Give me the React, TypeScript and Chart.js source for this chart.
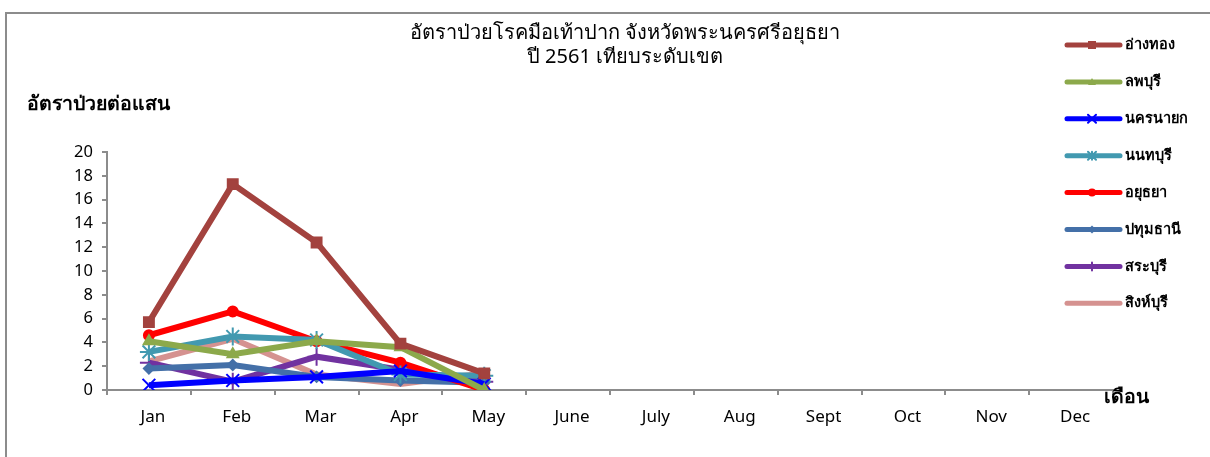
import React, { useEffect, useRef } from "react";
import { Chart, registerables } from "chart.js";

Chart.register(...registerables);

const months = ["Jan", "Feb", "Mar", "Apr", "May", "June", "July", "Aug", "Sept", "Oct", "Nov", "Dec"];
const titleLines = ["อัตราป่วยโรคมือเท้าปาก จังหวัดพระนครศรีอยุธยา", "ปี 2561 เทียบระดับเขต"];
const yAxisTitle = "อัตราป่วยต่อแสน";
const xAxisTitle = "เดือน";

const angthong = [5.7, 17.3, 12.4, 3.9, 1.4];
const lopburi = [4.1, 3.0, 4.1, 3.6, 0];
const nakhonnayok = [0.4, 0.8, 1.1, 1.6, 0.5];
const nonthaburi = [3.2, 4.5, 4.2, 1.3, 1.2];
const ayutthaya = [4.6, 6.6, 4.1, 2.3, 0];
const pathumthani = [1.8, 2.1, 1.1, 0.8, 0.6];
const saraburi = [2.3, 0.7, 2.8, 1.7, 0.7];
const singburi = [2.4, 4.3, 1.3, 0.5, 1.4];

const FONT = "Tahoma, 'Noto Sans', 'DejaVu Sans', sans-serif";

type S = { label: string; data: number[]; color: string; style: any; r: number };
const series: S[] = [
  { label: "อ่างทอง", data: angthong, color: "#A3423E", style: "rect", r: 7 },
  { label: "ลพบุรี", data: lopburi, color: "#8CA94B", style: "triangle", r: 6 },
  { label: "นครนายก", data: nakhonnayok, color: "#0000FF", style: "crossRot", r: 9 },
  { label: "นนทบุรี", data: nonthaburi, color: "#4299B0", style: "star", r: 9 },
  { label: "อยุธยา", data: ayutthaya, color: "#FF0000", style: "circle", r: 5 },
  { label: "ปทุมธานี", data: pathumthani, color: "#4470A8", style: "rectRot", r: 5 },
  { label: "สระบุรี", data: saraburi, color: "#7132A0", style: "cross", r: 9 },
  { label: "สิงห์บุรี", data: singburi, color: "#D59290", style: false, r: 0 },
];

function drawMarker(ctx: CanvasRenderingContext2D, style: any, x: number, y: number, r: number, color: string) {
  ctx.save();
  ctx.fillStyle = color;
  ctx.strokeStyle = color;
  ctx.lineWidth = 2;
  ctx.beginPath();
  if (style === "rect") {
    ctx.rect(x - r, y - r, 2 * r, 2 * r);
    ctx.fill();
  } else if (style === "triangle") {
    ctx.moveTo(x, y - r);
    ctx.lineTo(x + r, y + r * 0.8);
    ctx.lineTo(x - r, y + r * 0.8);
    ctx.closePath();
    ctx.fill();
  } else if (style === "circle") {
    ctx.arc(x, y, r, 0, Math.PI * 2);
    ctx.fill();
  } else if (style === "rectRot") {
    ctx.moveTo(x, y - r);
    ctx.lineTo(x + r, y);
    ctx.lineTo(x, y + r);
    ctx.lineTo(x - r, y);
    ctx.closePath();
    ctx.fill();
  } else if (style === "crossRot") {
    ctx.moveTo(x - r, y - r);
    ctx.lineTo(x + r, y + r);
    ctx.moveTo(x + r, y - r);
    ctx.lineTo(x - r, y + r);
    ctx.stroke();
  } else if (style === "star") {
    ctx.moveTo(x - r, y - r);
    ctx.lineTo(x + r, y + r);
    ctx.moveTo(x + r, y - r);
    ctx.lineTo(x - r, y + r);
    ctx.moveTo(x, y - r);
    ctx.lineTo(x, y + r);
    ctx.stroke();
  } else if (style === "cross") {
    ctx.moveTo(x, y - r);
    ctx.lineTo(x, y + r);
    ctx.moveTo(x - r, y);
    ctx.lineTo(x + r, y);
    ctx.stroke();
  }
  ctx.restore();
}

const decorPlugin = {
  id: "decor",
  afterDraw(chart: any) {
    const ctx: CanvasRenderingContext2D = chart.ctx;
    ctx.save();
    // outer border
    ctx.strokeStyle = "#8C8C8C";
    ctx.lineWidth = 2;
    ctx.strokeRect(6, 13, 1400, 1000);
    // title
    ctx.fillStyle = "#000";
    ctx.textAlign = "center";
    ctx.textBaseline = "middle";
    ctx.font = `20px ${FONT}`;
    ctx.fillText(titleLines[0], 625, 33);
    ctx.fillText(titleLines[1], 625, 57);
    // axis titles
    ctx.textAlign = "left";
    ctx.font = `bold 19.5px ${FONT}`;
    ctx.fillText(yAxisTitle, 27, 104);
    ctx.font = `bold 19.5px ${FONT}`;
    ctx.fillText(xAxisTitle, 1104, 397);
    // legend
    ctx.font = `bold 14.5px ${FONT}`;
    series.forEach((s, i) => {
      const y = 45 + i * 36.9;
      ctx.strokeStyle = s.color;
      ctx.lineWidth = 5;
      ctx.lineCap = "round";
      ctx.beginPath();
      ctx.moveTo(1067, y);
      ctx.lineTo(1120, y);
      ctx.stroke();
      if (s.style) drawMarker(ctx, s.style, 1092, y, 4, s.color);
      ctx.fillStyle = "#000";
      ctx.textAlign = "left";
      ctx.fillText(s.label, 1125, y);
    });
    ctx.restore();
  },
};

export default function App() {
  const ref = useRef<HTMLCanvasElement>(null);
  useEffect(() => {
    document.body.style.margin = "0";
    const chart = new Chart(ref.current!, {
      type: "line",
      data: {
        labels: months,
        datasets: series.map((s) => ({
          label: s.label,
          data: s.data,
          borderColor: s.color,
          backgroundColor: s.color,
          borderWidth: 6,
          pointStyle: s.style,
          pointRadius: s.r,
          pointBorderWidth: 2,
          pointBorderColor: s.color,
          pointBackgroundColor: s.color,
          tension: 0,
          fill: false,
        })),
      },
      options: {
        responsive: false,
        animation: false,
        layout: { padding: { left: 0, right: 97, top: 152, bottom: 27 } },
        plugins: { legend: { display: false }, title: { display: false }, tooltip: { enabled: false } },
        scales: {
          x: {
            offset: true,
            grid: { offset: true, drawOnChartArea: false, drawTicks: true, tickLength: 5, color: "#8C8C8C", lineWidth: 2 },
            border: { color: "#8C8C8C", width: 2 },
            ticks: { color: "#000", font: { family: FONT, size: 17 }, padding: 12, labelOffset: 4, maxRotation: 0, autoSkip: false },
            afterFit(scale: any) {
              scale.height = 40;
            },
          },
          y: {
            min: 0,
            max: 20,
            ticks: { stepSize: 2, color: "#000", font: { family: FONT, size: 16.5 }, padding: 9 },
            grid: { drawOnChartArea: false, drawTicks: true, tickLength: 5, color: "#8C8C8C", lineWidth: 2 },
            border: { color: "#8C8C8C", width: 2 },
            afterFit(scale: any) {
              scale.width = 107;
            },
          },
        },
      },
      plugins: [decorPlugin],
    });
    return () => chart.destroy();
  }, []);
  return (
    <div style={{ width: 1210, height: 457 }}>
      <canvas ref={ref} width={1210} height={457} />
    </div>
  );
}
